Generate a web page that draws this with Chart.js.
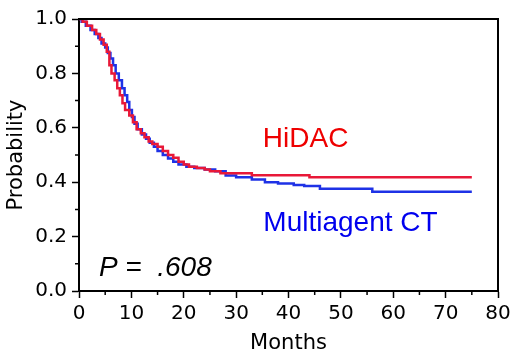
<!DOCTYPE html>
<html>
<head>
<meta charset="utf-8">
<script src="https://cdn.jsdelivr.net/npm/chart.js@4.4.1/dist/chart.umd.min.js"></script>
<style>
    body { margin: 0; background: #fff; }
</style>
</head>
<body>
<canvas id="kmChart" width="520" height="356"></canvas>
<script>
// Kaplan-Meier estimates (months, probability)
const hidacMonths = [0, 0.7, 1.5, 2.5, 3.3, 4, 4.7, 5.3, 5.8, 6.2, 6.8, 7.3, 7.8, 8.3, 8.8, 9.6, 10.3, 11, 11.8, 12.5, 13.3, 14, 15, 16, 17, 18, 19, 20, 21, 22.5, 24, 25, 27, 33, 44, 75];
const hidacProb = [1.0, 0.99, 0.975, 0.96, 0.945, 0.925, 0.905, 0.88, 0.83, 0.80, 0.775, 0.745, 0.72, 0.69, 0.665, 0.645, 0.62, 0.595, 0.58, 0.565, 0.55, 0.54, 0.53, 0.515, 0.50, 0.49, 0.475, 0.465, 0.457, 0.452, 0.447, 0.44, 0.433, 0.426, 0.418, 0.418];

const multiMonths = [0, 0.5, 1.3, 2.2, 3, 3.7, 4.3, 5, 5.5, 6, 6.5, 7, 7.6, 8.2, 8.7, 9.2, 9.6, 10.1, 10.6, 11.2, 12, 12.8, 13.5, 14.3, 15, 16, 17, 18, 19, 20.5, 22, 24, 26, 28, 30, 33, 35.5, 38, 41, 43, 46, 56, 75];
const multiProb = [1.0, 0.99, 0.975, 0.96, 0.945, 0.93, 0.91, 0.895, 0.875, 0.855, 0.83, 0.80, 0.775, 0.745, 0.72, 0.695, 0.665, 0.64, 0.615, 0.595, 0.575, 0.56, 0.545, 0.53, 0.515, 0.50, 0.487, 0.475, 0.465, 0.457, 0.452, 0.447, 0.44, 0.425, 0.418, 0.41, 0.40, 0.395, 0.39, 0.386, 0.376, 0.365, 0.365];

const xTicks = [0, 10, 20, 30, 40, 50, 60, 70, 80];
const yTicks = [0.0, 0.2, 0.4, 0.6, 0.8, 1.0];

const axisFont = "'DejaVu Sans', Verdana, sans-serif";
const noteFont = "'Liberation Sans', Arial, sans-serif";

function toPoints(xs, ys) {
    return xs.map((x, i) => ({ x: x, y: ys[i] }));
}

// box, minor ticks and the text labels inside the plot
const decorPlugin = {
    id: 'decor',
    afterDraw(chart) {
        const ctx = chart.ctx;
        const area = chart.chartArea;
        const xs = chart.scales.x;
        const ys = chart.scales.y;
        ctx.save();
        ctx.strokeStyle = '#000';
        ctx.lineWidth = 2;
        ctx.beginPath();
        ctx.moveTo(area.left, area.top);
        ctx.lineTo(area.right, area.top);
        ctx.lineTo(area.right, area.bottom);
        ctx.stroke();

        // minor ticks halfway between the labelled ones
        ctx.lineWidth = 1.5;
        ctx.beginPath();
        for (let i = 0; i < xTicks.length - 1; i++) {
            const px = xs.getPixelForValue((xTicks[i] + xTicks[i + 1]) / 2);
            ctx.moveTo(px, area.bottom);
            ctx.lineTo(px, area.bottom + 4);
        }
        for (let i = 0; i < yTicks.length - 1; i++) {
            const py = ys.getPixelForValue((yTicks[i] + yTicks[i + 1]) / 2);
            ctx.moveTo(area.left, py);
            ctx.lineTo(area.left - 4, py);
        }
        ctx.stroke();

        ctx.textBaseline = 'middle';
        ctx.textAlign = 'left';
        ctx.font = '28px ' + noteFont;
        ctx.fillStyle = '#ee0000';
        ctx.fillText('HiDAC', xs.getPixelForValue(35.1), ys.getPixelForValue(0.558));
        ctx.fillStyle = '#0000ee';
        ctx.fillText('Multiagent CT', xs.getPixelForValue(35.2), ys.getPixelForValue(0.248));
        ctx.fillStyle = '#000';
        ctx.font = 'italic 28px ' + noteFont;
        ctx.fillText('P =  .608', xs.getPixelForValue(3.8), ys.getPixelForValue(0.083));
        ctx.restore();
    }
};

const ctx = document.getElementById('kmChart').getContext('2d');
new Chart(ctx, {
    type: 'line',
    data: {
        datasets: [
            {
                label: 'HiDAC',
                data: toPoints(hidacMonths, hidacProb),
                borderColor: 'rgb(232, 24, 56)',
                borderWidth: 2.5,
                stepped: true,
                pointRadius: 0,
                fill: false
            },
            {
                label: 'Multiagent CT',
                data: toPoints(multiMonths, multiProb),
                borderColor: 'rgb(30, 50, 230)',
                borderWidth: 2.5,
                stepped: true,
                pointRadius: 0,
                fill: false
            }
        ]
    },
    options: {
        responsive: false,
        animation: false,
        layout: {
            padding: { left: 0, right: 22, top: 19, bottom: 0 }
        },
        plugins: {
            legend: { display: false },
            tooltip: { enabled: false }
        },
        scales: {
            x: {
                type: 'linear',
                min: 0,
                max: 80,
                afterFit: scale => { scale.height = 65; },
                afterBuildTicks: scale => { scale.ticks = xTicks.map(v => ({ value: v })); },
                ticks: {
                    color: '#000',
                    padding: 4,
                    font: { family: axisFont, size: 20 },
                    callback: v => v
                },
                grid: { drawOnChartArea: false, drawTicks: true, tickLength: 7, tickColor: '#000', tickWidth: 1.5 },
                border: { color: '#000', width: 2 },
                title: {
                    display: true,
                    text: 'Months',
                    color: '#000',
                    font: { family: axisFont, size: 21 },
                    padding: { top: 0, bottom: 0 }
                }
            },
            y: {
                min: 0,
                max: 1,
                afterFit: scale => { scale.width = 79; },
                afterBuildTicks: scale => { scale.ticks = yTicks.map(v => ({ value: v })); },
                ticks: {
                    color: '#000',
                    padding: 5,
                    font: { family: axisFont, size: 20 },
                    callback: v => v.toFixed(1)
                },
                grid: { drawOnChartArea: false, drawTicks: true, tickLength: 7, tickColor: '#000', tickWidth: 1.5 },
                border: { color: '#000', width: 2 },
                title: {
                    display: true,
                    text: 'Probability',
                    color: '#000',
                    font: { family: axisFont, size: 21 },
                    padding: { top: 4, bottom: 0 }
                }
            }
        }
    },
    plugins: [decorPlugin]
});
</script>
</body>
</html>
